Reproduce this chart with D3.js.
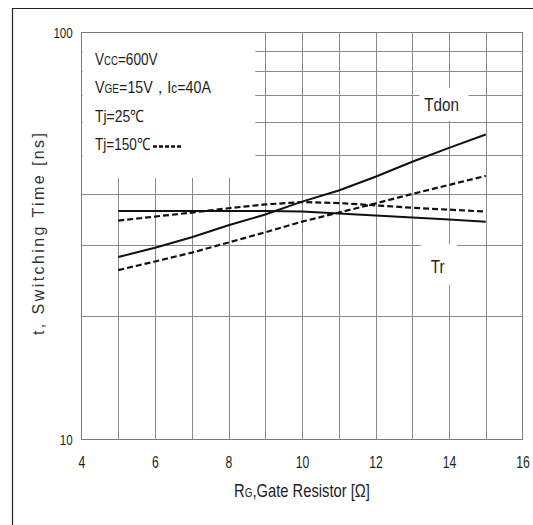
<!DOCTYPE html>
<html>
<head>
<meta charset="utf-8">
<script src="https://cdn.jsdelivr.net/npm/d3@7"></script>
<style>
  html, body { margin: 0; padding: 0; background: #fff; }
  svg { display: block; }
  text { font-family: "Liberation Sans", Arial, sans-serif; fill: #1e1e1e; }
</style>
</head>
<body>
<svg id="chart" width="533" height="525"></svg>
<script>
// ---- data ----
const rg = [5, 6, 7, 8, 9, 10, 11, 12, 13, 14, 15];                 // Gate resistor [ohm]
const tdon25  = [28.0, 29.5, 31.3, 33.5, 35.6, 38.3, 40.8, 44.1, 48.0, 51.9, 56.0];
const tdon150 = [26.0, 27.3, 28.7, 30.4, 32.2, 34.2, 36.0, 37.9, 40.0, 42.1, 44.3];
const tr25    = [36.3, 36.3, 36.3, 36.3, 36.3, 36.2, 35.8, 35.4, 35.0, 34.6, 34.2];
const tr150   = [34.4, 35.2, 36.0, 36.9, 37.7, 38.2, 38.0, 37.5, 37.0, 36.6, 36.2];
const xTicks = [4, 6, 8, 10, 12, 14, 16];
const yTicks = [10, 100];
const yGrid = [20, 30, 40, 50, 60, 70, 80, 90];
const xGrid = [5, 6, 7, 8, 9, 10, 11, 12, 13, 14, 15];

const svg = d3.select("#chart");
const L = 81.5, R = 522.5, T = 32, B = 439;
const x = d3.scaleLinear().domain([4, 16]).range([L, R]);
const y = d3.scaleLog().domain([10, 100]).range([B, T]);

// condensed look: squeeze text horizontally around its anchor
function condense(sel, sx) {
  sel.each(function () {
    const t = d3.select(this);
    const tx = +t.attr("x") || 0, ty = +t.attr("y") || 0;
    t.attr("x", 0).attr("y", 0).attr("transform", `translate(${tx},${ty}) scale(${sx},1)`);
  });
}

// outer frame (only top/left visible)
svg.append("path").attr("d", "M12.5,525 L12.5,8.5 L533,8.5")
  .attr("fill", "none").attr("stroke", "#222").attr("stroke-width", 1.2);

const grid = svg.append("g").attr("stroke", "#8a8a8a").attr("stroke-width", 1);
grid.selectAll("line.h").data(yGrid).join("line")
  .attr("x1", L).attr("x2", R)
  .attr("y1", d => Math.round(y(d)) + 0.5).attr("y2", d => Math.round(y(d)) + 0.5);
grid.selectAll("line.v").data(xGrid).join("line")
  .attr("y1", T).attr("y2", B)
  .attr("x1", d => Math.round(x(d)) + 0.5).attr("x2", d => Math.round(x(d)) + 0.5);

// white annotation boxes covering the grid
svg.append("rect").attr("x", L + 1).attr("y", T + 1)
  .attr("width", x(8.73) - L - 1).attr("height", 178 - T - 1).attr("fill", "#fff");
svg.append("rect").attr("x", x(13.19)).attr("y", 88)
  .attr("width", x(14.53) - x(13.19)).attr("height", Math.round(y(60)) - 1 - 88).attr("fill", "#fff");
svg.append("rect").attr("x", x(13.23)).attr("y", Math.round(y(30)) - 1)
  .attr("width", x(14.22) - x(13.23)).attr("height", 41).attr("fill", "#fff");

// plot border
svg.append("rect").attr("x", L).attr("y", T + 0.5)
  .attr("width", R - L).attr("height", B - T)
  .attr("fill", "none").attr("stroke", "#7a7a7a").attr("stroke-width", 1);

// series
const line = d3.line().x((d, i) => x(rg[i])).y(d => y(d));
const series = [
  { v: tdon25, dash: null },
  { v: tr25, dash: null },
  { v: tdon150, dash: "6,3" },
  { v: tr150, dash: "6,3" }
];
svg.append("g").selectAll("path").data(series).join("path")
  .attr("d", d => line(d.v))
  .attr("fill", "none").attr("stroke", "#111")
  .attr("stroke-width", d => d.dash ? 2.2 : 2)
  .attr("stroke-dasharray", d => d.dash);

// axes
const xAxis = svg.append("g").attr("transform", `translate(0,${B})`)
  .call(d3.axisBottom(x).tickValues(xTicks).tickSize(0).tickPadding(18).tickFormat(d3.format("d")));
xAxis.select(".domain").remove();
xAxis.selectAll("text").attr("font-size", 16).attr("font-family", null)
  .attr("transform", "scale(0.76,1)");

const yAxis = svg.append("g").attr("transform", `translate(${L},0)`)
  .call(d3.axisLeft(y).tickValues(yTicks).tickSize(0).tickFormat(d3.format("d")));
yAxis.select(".domain").remove();
yAxis.selectAll("text").attr("font-size", 14).attr("font-family", null)
  .attr("x", -10.5).attr("dy", "0.36em")
  .attr("transform", "scale(0.83,1)");

// axis titles
const xt = svg.append("text").attr("x", 302).attr("y", 497)
  .attr("text-anchor", "middle").attr("font-size", 18);
xt.append("tspan").text("R");
xt.append("tspan").attr("font-size", 12).text("G");
xt.append("tspan").text(",Gate Resistor [Ω]");
condense(xt, 0.82);

svg.append("text").attr("transform", "translate(44,234) rotate(-90)")
  .attr("text-anchor", "middle").attr("font-size", 16).attr("fill", "#333")
  .attr("textLength", 202).attr("lengthAdjust", "spacing")
  .style("fill", "#333")
  .text("t, Switching Time [ns]");

// condition notes
const notes = svg.append("g").attr("font-size", 17);
const n1 = notes.append("text").attr("x", 95).attr("y", 65);
n1.append("tspan").text("V");
n1.append("tspan").attr("font-size", 12).text("CC");
n1.append("tspan").text("=600V");
const n2 = notes.append("text").attr("x", 95).attr("y", 93);
n2.append("tspan").text("V");
n2.append("tspan").attr("font-size", 12).text("GE");
n2.append("tspan").text("=15V，I");
n2.append("tspan").attr("font-size", 14).text("c");
n2.append("tspan").text("=40A");
const n3 = notes.append("text").attr("x", 95).attr("y", 122).text("Tj=25℃");
const n4 = notes.append("text").attr("x", 95).attr("y", 150).text("Tj=150℃");
condense(n1, 0.8);
condense(n2, 0.84);
condense(n3, 0.82);
condense(n4, 0.8);
svg.append("line").attr("x1", 153).attr("x2", 181).attr("y1", 146.5).attr("y2", 146.5)
  .attr("stroke", "#111").attr("stroke-width", 2.4).attr("stroke-dasharray", "4,2");

// curve labels
const tdonLbl = svg.append("text").attr("x", x(13.8)).attr("y", 111)
  .attr("text-anchor", "middle").attr("font-size", 19).text("Tdon");
const trLbl = svg.append("text").attr("x", x(13.69)).attr("y", 273)
  .attr("text-anchor", "middle").attr("font-size", 19).text("Tr");
condense(tdonLbl, 0.8);
condense(trLbl, 0.8);
</script>
</body>
</html>
